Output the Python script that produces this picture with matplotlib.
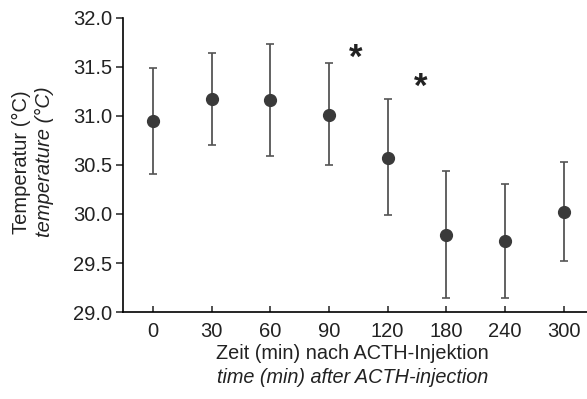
import numpy as np
import matplotlib.pyplot as plt

plt.rcParams['font.family'] = ['Liberation Sans', 'DejaVu Sans']

# Zeitpunkte (min) nach ACTH-Injektion
zeiten = ['0', '30', '60', '90', '120', '180', '240', '300']
# Mittelwerte der Temperatur (°C)
mittel = [30.95, 31.17, 31.16, 31.01, 30.57, 29.79, 29.72, 30.02]
# obere und untere Grenze der Fehlerbalken
oben = [31.49, 31.64, 31.73, 31.54, 31.17, 30.44, 30.31, 30.53]
unten = [30.41, 30.70, 30.59, 30.50, 29.99, 29.14, 29.14, 29.52]

# Signifikanz-Sterne (Position zwischen den Zeitpunkten)
stern_x = [3.46, 4.56]
stern_y = [31.59, 31.29]

x = np.arange(len(zeiten))
mittel = np.array(mittel)
fehler = np.array([mittel - np.array(unten), np.array(oben) - mittel])

fig = plt.figure(figsize=(5.87, 3.99), dpi=100)
ax = fig.add_axes([0.2095, 0.218, 0.7905, 0.737])

ax.errorbar(x, mittel, yerr=fehler, fmt='o', color='#3a3a3a',
            ecolor='#555555', elinewidth=1.3, capsize=3, capthick=1.2,
            markersize=8.5)

for sx, sy in zip(stern_x, stern_y):
    ax.text(sx, sy, '*', fontsize=25, fontweight='bold', color='#222222',
            ha='center', va='center')

ax.set_xlim(-0.51, 7.4)
ax.set_ylim(29.0, 32.0)
ax.set_yticks([29.0, 29.5, 30.0, 30.5, 31.0, 31.5, 32.0])
ax.set_yticklabels(['29.0', '29.5', '30.0', '30.5', '31.0', '31.5', '32.0'])
ax.set_xticks(x)
ax.set_xticklabels(zeiten)

ax.spines['top'].set_visible(False)
ax.spines['right'].set_visible(False)
ax.spines['left'].set_linewidth(1.2)
ax.spines['bottom'].set_linewidth(1.2)
ax.tick_params(axis='y', direction='out', length=5, width=1.1,
               labelsize=14.5, colors='#222222', pad=3)
ax.tick_params(axis='x', direction='in', length=4, width=1.1,
               labelsize=14.5, colors='#222222', pad=7)

# Achsenbeschriftungen (deutsch / englisch kursiv)
fig.text(0.036, 0.594, 'Temperatur (°C)', rotation=90, fontsize=14.5,
         ha='center', va='center', color='#222222')
fig.text(0.075, 0.594, 'temperature (°C)', rotation=90, fontsize=14.5,
         style='italic', ha='center', va='center', color='#222222')
fig.text(0.601, 0.113, 'Zeit (min) nach ACTH-Injektion', fontsize=14.3,
         ha='center', va='center', color='#222222')
fig.text(0.601, 0.053, 'time (min) after ACTH-injection', fontsize=14.3,
         style='italic', ha='center', va='center', color='#222222')

fig.savefig('out.png', dpi=100)
